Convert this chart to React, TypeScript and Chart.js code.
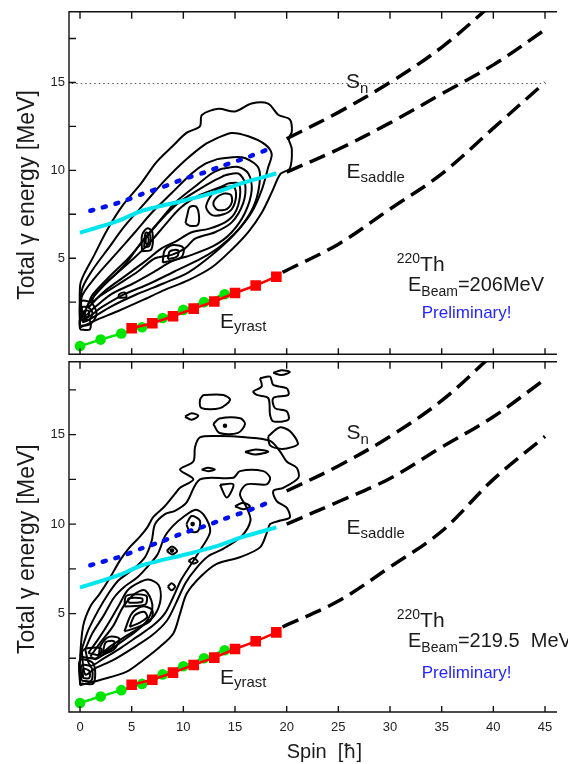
import { useEffect, useRef } from "react";
import { Chart, registerables } from "chart.js";

Chart.register(...registerables);

type Pt = [number, number];

const FONT = '"Liberation Sans", "DejaVu Sans", Arial, sans-serif';
const SYMBOL_FONT = '"DejaVu Sans", "Liberation Sans", sans-serif';
const INK = "#1a1a1a";

// ---------- axes ----------
const spinRange: Pt = [-1.065, 46.16];
const spinTicks = [0, 5, 10, 15, 20, 25, 30, 35, 40, 45];
const energyMajorTicks = [5, 10, 15];
const energyMinorTicks = [2.5, 7.5, 12.5, 17.5];
const topEnergyRange: Pt = [-0.46, 19.02];
const bottomEnergyRange: Pt = [-0.5, 19.07];

// ---------- yrast line (both panels) ----------
const yrastCircleSpin = [0, 2, 4, 6, 8, 10, 12, 14];
const yrastCircleE = [0.0, 0.37, 0.72, 1.07, 1.6, 2.06, 2.5, 2.95];
const yrastSquareSpin = [5, 7, 9, 11, 13, 15, 17, 19];
const yrastSquareE = [1.02, 1.3, 1.7, 2.13, 2.54, 3.02, 3.45, 3.95];

// ---------- blue dotted & cyan lines ----------
const blueSpin = [1, 4, 6, 8, 10, 12, 14, 16, 18];
const blueE = [7.7, 8.2, 8.65, 9.05, 9.5, 9.87, 10.3, 10.7, 11.15];
const cyanSpin = [0, 3.7, 6, 10.2, 13.4, 15.6, 19];
const cyanE = [6.45, 7.13, 7.7, 8.3, 8.8, 9.26, 9.82];

// ---------- dashed extrapolations ----------
const topUpperDashSpin = [20, 25, 30, 35, 40];
const topUpperDashE = [11.8, 13.3, 15.0, 17.0, 19.5];
const topMiddleDashSpin = [20, 25, 30, 35, 40, 45];
const topMiddleDashE = [9.9, 11.2, 12.7, 14.35, 16.0, 18.0];
const topLowerDashSpin = [19.6, 25, 30, 35, 40, 45];
const topLowerDashE = [4.2, 5.8, 7.8, 9.8, 12.4, 15.0];

const botUpperDashSpin = [20, 25, 30, 35, 40];
const botUpperDashE = [11.85, 13.25, 14.9, 16.9, 19.5];
const botMiddleDashSpin = [20, 25, 30, 35, 40, 45];
const botMiddleDashE = [10.0, 11.25, 12.55, 14.3, 16.0, 18.1];
const botLowerDashSpin = [19.6, 25, 30, 35, 40, 45];
const botLowerDashE = [4.25, 5.7, 7.6, 9.6, 12.5, 14.9];

// S_n level (top panel)
const snLineSpin = [-0.8, 44.8];
const snLineE = [14.94, 14.94];

// ---------- top panel contours (spin, E) ----------
const topContour1: Pt[] = [[0,1.05],[1.45,1.45],[3.7,2.0],[6.0,2.6],[8.2,3.2],[10.5,3.75],[12.8,4.5],[14.7,5.5],[16.3,6.5],[17.6,7.6],[18.6,8.8],[19.4,9.8],[20.3,10.1],[20.5,11.2],[20.2,11.8],[20.5,12.2],[20.3,12.9],[19.2,13.15],[18.2,13.8],[16.6,13.8],[15.0,13.35],[13.4,13.5],[11.8,13.15],[11.6,12.5],[10.3,12.13],[9.0,11.4],[7.4,10.47],[5.8,9.17],[4.2,8.06],[2.6,6.58],[1.3,5.09],[0.3,3.98],[0,3.4],[0,1.05]];
const topContour2: Pt[] = [[13.38,11.86],[14.68,12.13],[16.29,11.94],[17.9,11.48],[18.55,10.93],[18.22,10.19],[17.6,8.9],[16.6,7.6],[15.0,6.4],[13.0,5.3],[10.5,4.2],[8.0,3.55],[5.5,2.95],[3.0,2.25],[1.0,1.55],[0.25,1.4],[0.16,3.15],[1.13,4.26],[2.74,5.56],[4.35,6.85],[6.29,8.15],[8.23,9.44],[10.16,10.56],[12.1,11.48],[13.38,11.86]];
const topContour3: Pt[] = [[13.38,10.65],[15.65,10.74],[17.1,10.28],[17.42,9.63],[16.94,8.15],[15.65,6.86],[13.71,5.74],[11.78,5.0],[9.19,4.26],[6.61,3.52],[4.35,2.97],[2.1,2.22],[0.48,1.6],[0.16,2.78],[1.45,3.89],[3.39,5.19],[5.32,6.48],[6.94,7.59],[8.87,8.71],[10.81,9.82],[12.1,10.37],[13.38,10.65]];
const topContour4: Pt[] = [[13.71,10.09],[15.32,10.19],[16.29,9.82],[16.62,8.89],[15.97,7.59],[14.68,6.48],[13.06,5.74],[10.81,5.19],[8.87,4.82],[7.26,4.26],[5.0,3.52],[3.07,2.97],[1.45,2.22],[0.5,1.75],[0.8,2.41],[2.42,3.52],[4.35,4.63],[5.97,5.93],[7.58,7.04],[9.19,8.15],[11.13,9.08],[12.74,9.82],[13.71,10.09]];
const topContour5: Pt[] = [[14.03,9.72],[15.32,9.82],[15.97,9.26],[15.8,8.15],[14.68,7.04],[13.06,6.48],[11.13,6.11],[10.16,5.56],[8.87,5.19],[7.26,5.0],[5.64,4.26],[3.71,3.52],[1.77,2.78],[0.8,2.2],[1.13,2.85],[2.74,3.89],[4.68,5.0],[6.29,6.11],[7.9,7.22],[9.51,8.15],[11.45,8.89],[13.06,9.44],[14.03,9.72]];
const topContour6: Pt[] = [[14.35,9.26],[15.32,9.26],[15.48,8.52],[15.0,7.59],[14.03,7.04],[12.42,6.67],[10.81,6.48],[9.19,5.93],[7.9,5.56],[6.29,4.82],[4.35,3.98],[2.42,3.15],[1.2,2.5],[1.45,2.95],[3.19,3.95],[5.13,4.95],[6.77,5.9],[8.23,6.9],[9.68,7.85],[11.61,8.6],[13.35,9.0],[14.35,9.26]];
const topContour7: Pt[] = [[13.9,9.05],[14.9,9.05],[15.1,8.5],[14.7,7.8],[13.9,7.5],[12.8,7.45],[12.2,7.9],[12.6,8.5],[13.2,8.9],[13.9,9.05]];
const topContour8: Pt[] = [[14.0,8.7],[14.6,8.6],[14.7,8.2],[14.2,7.8],[13.3,7.75],[12.9,8.1],[13.3,8.5],[14.0,8.7]];
const topLoopA: Pt[] = [[10.2,7.0],[10.6,6.85],[11.4,6.9],[11.5,7.5],[11.2,7.95],[10.6,7.9],[10.4,7.5],[10.2,7.0]];
const topLoopB1: Pt[] = [[6.0,5.4],[6.9,5.5],[7.0,6.5],[6.5,6.7],[6.0,6.3],[6.0,5.4]];
const topLoopB2: Pt[] = [[6.2,5.6],[6.7,5.7],[6.8,6.3],[6.35,6.45],[6.2,5.6]];
const topLoopB3: Pt[] = [[6.35,5.8],[6.6,5.85],[6.6,6.2],[6.4,6.2],[6.35,5.8]];
const topLoopC1: Pt[] = [[8.0,4.75],[9.8,5.05],[10.0,5.6],[9.0,5.75],[8.2,5.45],[8.0,4.75]];
const topLoopC2: Pt[] = [[8.5,4.95],[9.4,5.1],[9.5,5.45],[8.7,5.4],[8.5,4.95]];
const topLoopD1: Pt[] = [[0,1.15],[1.0,1.25],[1.6,1.8],[1.2,2.4],[0.3,2.6],[0,2.4],[0,1.15]];
const topLoopD2: Pt[] = [[0.2,1.45],[0.9,1.5],[1.2,1.9],[0.8,2.2],[0.2,2.2],[0.2,1.45]];
const topLoopD3: Pt[] = [[0,0.95],[0.95,0.95],[0.95,1.45],[0,1.5],[0,0.95]];
const topLoopD4: Pt[] = [[0.35,1.65],[0.8,1.7],[0.85,2.0],[0.4,2.0],[0.35,1.65]];
const topLoopE: Pt[] = [[3.7,2.75],[4.5,2.8],[4.3,3.05],[3.8,2.95],[3.7,2.75]];

// ---------- bottom panel contours (spin, E) ----------
const botContour1: Pt[] = [[0,1.0],[0,2.4],[0.3,4.3],[1.0,5.4],[1.9,6.1],[2.9,7.0],[3.9,8.0],[4.8,8.7],[5.8,9.3],[6.5,9.8],[7.1,10.4],[8.2,11.0],[9.2,11.7],[9.68,12.03],[10.97,12.5],[9.68,13.05],[10.97,13.5],[11.13,14.3],[11.6,14.85],[13.5,14.92],[16.0,14.85],[18.4,14.65],[19.35,14.07],[20.0,13.5],[20.97,13.15],[21.13,12.59],[19.68,12.03],[18.7,11.85],[19.03,11.29],[20.0,10.92],[20.3,10.37],[19.4,10.2],[18.4,10.0],[18.07,9.5],[17.42,8.7],[15.48,8.15],[13.23,7.78],[11.61,7.03],[10.32,6.11],[9.68,5.0],[9.03,3.89],[7.74,3.15],[6.13,2.41],[4.52,1.76],[1.94,1.29],[0,1.0]];
const botContour2: Pt[] = [[0.16,2.98],[0.8,4.07],[1.77,5.18],[2.74,6.11],[3.71,6.85],[5.0,7.41],[6.29,8.15],[6.94,9.07],[7.26,10.0],[8.23,10.56],[9.19,10.74],[10.3,11.2],[11.61,12.5],[14.84,12.59],[15.48,12.96],[17.74,12.96],[18.39,12.59],[18.07,12.22],[16.13,12.22],[15.48,11.67],[16.13,10.92],[16.5,10.2],[15.6,9.3],[13.8,8.6],[12.4,8.2],[11.2,7.5],[10.2,6.7],[9.3,5.6],[8.4,4.6],[7.0,3.8],[5.2,3.1],[3.2,2.4],[1.5,1.95],[0.5,1.6],[0.16,2.98]];
const botContour3: Pt[] = [[0.5,3.0],[1.2,3.9],[2.3,4.9],[3.3,5.9],[4.3,6.5],[5.5,7.0],[6.5,7.6],[7.5,8.3],[8.2,9.3],[9.0,9.9],[10.0,10.4],[11.2,10.8],[12.0,10.5],[12.6,9.6],[11.8,8.7],[10.8,7.8],[9.8,6.9],[9.0,5.9],[8.2,5.0],[7.0,4.3],[5.5,3.7],[4.0,3.1],[2.3,2.5],[1.0,2.1],[0.5,3.0]];
const botContour4: Pt[] = [[1.0,2.6],[2.0,3.4],[3.2,4.3],[4.2,5.4],[5.3,6.1],[6.3,6.3],[7.0,5.5],[6.6,4.7],[5.6,4.1],[4.2,3.5],[2.6,2.85],[1.5,2.45],[1.0,2.6]];
const botContour5: Pt[] = [[0.8,2.8],[1.8,3.6],[2.8,4.5],[3.8,5.5],[4.6,6.3],[5.6,6.7],[6.6,6.9],[7.6,6.6],[7.8,5.8],[7.2,4.9],[6.0,4.3],[4.6,3.8],[3.0,3.2],[1.8,2.7],[0.8,2.8]];
const botLoopA1: Pt[] = [[4.3,4.0],[5.4,4.2],[6.8,4.6],[7.0,5.2],[6.0,5.4],[5.0,5.0],[4.3,4.0]];
const botLoopA2: Pt[] = [[4.8,4.25],[5.8,4.5],[6.5,4.8],[6.2,5.1],[5.3,4.9],[4.8,4.25]];
const botLoopA3: Pt[] = [[4.3,5.4],[6.3,5.5],[6.4,6.0],[4.5,6.0],[4.3,5.4]];
const botLoopA4: Pt[] = [[4.7,5.6],[6.0,5.65],[6.0,5.85],[4.7,5.85],[4.7,5.6]];
const botLoopB1: Pt[] = [[1.8,2.6],[3.3,3.0],[3.8,3.6],[2.8,3.7],[2.0,3.2],[1.8,2.6]];
const botLoopB2: Pt[] = [[2.2,2.8],[3.2,3.15],[3.3,3.45],[2.5,3.4],[2.2,2.8]];
const botLoopC1: Pt[] = [[0,1.1],[1.3,1.1],[1.3,2.2],[0,2.4],[0,1.1]];
const botLoopC2: Pt[] = [[0.15,1.25],[1.1,1.25],[1.1,2.0],[0.15,2.1],[0.15,1.25]];
const botLoopC3: Pt[] = [[0.3,1.4],[0.9,1.4],[0.9,1.8],[0.3,1.9],[0.3,1.4]];
const botLoopC4: Pt[] = [[0,2.6],[1.6,2.5],[2.1,3.0],[1.6,3.1],[0.4,3.0],[0,2.6]];
const botLoopD: Pt[] = [[10.3,10.0],[10.8,10.45],[11.6,10.2],[11.4,9.6],[10.6,9.6],[10.3,10.0]];
const botLoopE: Pt[] = [[8.4,8.5],[8.9,8.75],[9.4,8.5],[8.9,8.3],[8.4,8.5]];
const botLoopF: Pt[] = [[8.5,6.5],[8.85,6.7],[9.2,6.5],[8.85,6.3],[8.5,6.5]];
const botLoopG: Pt[] = [[10.5,7.95],[11.0,8.1],[11.4,7.9],[10.9,7.8],[10.5,7.95]];
const botIsland1: Pt[] = [[18.7,18.45],[19.5,18.6],[20.3,18.5],[19.5,18.33],[18.7,18.45]];
const botIsland2: Pt[] = [[17.42,18.15],[18.39,18.24],[18.7,17.78],[20.0,17.59],[20.16,17.22],[18.7,17.04],[18.87,16.48],[20.0,16.3],[20.16,15.83],[18.7,15.74],[18.39,16.11],[18.22,17.04],[17.1,17.22],[16.77,17.41],[17.58,17.69],[17.42,18.15]];
const botIsland3: Pt[] = [[11.93,17.22],[13.87,17.22],[14.52,16.94],[13.55,16.48],[11.77,16.48],[11.61,16.94],[11.93,17.22]];
const botIsland4: Pt[] = [[10.16,16.0],[10.8,16.2],[11.45,16.05],[10.8,15.83],[10.16,16.0]];
const botIsland5: Pt[] = [[12.9,15.6],[13.5,15.9],[15.5,15.92],[15.97,15.6],[15.3,15.1],[13.5,15.09],[12.9,15.6]];
const botIsland6: Pt[] = [[18.2,14.9],[19.3,15.4],[20.3,15.2],[21.1,14.5],[20.5,14.3],[19.5,14.2],[18.4,14.4],[18.2,14.9]];
const botIsland7: Pt[] = [[15.97,14.03],[17.0,14.17],[18.22,14.05],[17.0,13.89],[15.97,14.03]];
const botIsland8: Pt[] = [[11.77,13.05],[12.4,13.15],[13.06,13.05],[12.4,12.96],[11.77,13.05]];
const botIsland9: Pt[] = [[13.55,12.2],[14.84,12.22],[14.2,11.48],[13.55,12.2]];
const botIsland10: Pt[] = [[15.0,11.0],[15.8,11.2],[16.45,11.0],[15.8,10.83],[15.0,11.0]];
const botPeakDots: Pt[] = [[14.03,15.5],[10.9,10.0],[8.9,8.52]];

// ---------- text ----------
type Part = { t: string; size: number; dy?: number; color?: string; family?: string };
type Label = { spin: number; e: number; parts: Part[] };

const yTitle = "Total \u03b3 energy [MeV]";
const xTitleParts: Part[] = [
  { t: "Spin  [", size: 20 },
  { t: "\u0127", size: 19, family: SYMBOL_FONT },
  { t: "]", size: 20 },
];
const BLUE_TEXT = "#2424ff";

const topLabels: Label[] = [
  { spin: 25.74, e: 14.69, parts: [{ t: "S", size: 21 }, { t: "n", size: 15, dy: 5 }] },
  { spin: 25.8, e: 9.54, parts: [{ t: "E", size: 21 }, { t: "saddle", size: 15, dy: 4 }] },
  { spin: 30.65, e: 4.26, parts: [{ t: "220", size: 14, dy: -8 }, { t: "Th", size: 21 }] },
  { spin: 31.74, e: 3.15, parts: [{ t: "E", size: 20 }, { t: "Beam", size: 14, dy: 5 }, { t: "=206MeV", size: 20 }] },
  { spin: 33.07, e: 1.59, parts: [{ t: "Preliminary!", size: 17, color: BLUE_TEXT }] },
  { spin: 13.55, e: 1.04, parts: [{ t: "E", size: 21 }, { t: "yrast", size: 15, dy: 3 }] },
];
const bottomLabels: Label[] = [
  { spin: 25.8, e: 14.74, parts: [{ t: "S", size: 21 }, { t: "n", size: 15, dy: 5 }] },
  { spin: 25.8, e: 9.46, parts: [{ t: "E", size: 21 }, { t: "saddle", size: 15, dy: 4 }] },
  { spin: 30.65, e: 4.24, parts: [{ t: "220", size: 14, dy: -8 }, { t: "Th", size: 21 }] },
  { spin: 31.74, e: 3.14, parts: [{ t: "E", size: 20 }, { t: "Beam", size: 14, dy: 5 }, { t: "=219.5  MeV", size: 20 }] },
  { spin: 33.07, e: 1.41, parts: [{ t: "Preliminary!", size: 17, color: BLUE_TEXT }] },
  { spin: 13.55, e: 1.07, parts: [{ t: "E", size: 21 }, { t: "yrast", size: 15, dy: 3 }] },
];

// ---------- helpers ----------
const zip = (xs: number[], ys: number[]) => xs.map((x, i) => ({ x, y: ys[i] }));
const pts = (p: Pt[]) => p.map(([x, y]) => ({ x, y }));

function contourDs(p: Pt[]) {
  return {
    data: pts(p),
    showLine: true,
    borderColor: "#000",
    borderWidth: 2,
    pointRadius: 0,
    tension: 0.3,
    fill: false,
    order: 20,
  };
}

function lineDatasets(panel: "top" | "bottom") {
  const top = panel === "top";
  const dashed = (xs: number[], ys: number[]) => ({
    data: zip(xs, ys),
    showLine: true,
    borderColor: "#000",
    borderWidth: 3.5,
    borderDash: [17, 8],
    pointRadius: 0,
    tension: 0.35,
    order: 5,
  });
  const list: any[] = [
    {
      data: zip(yrastSquareSpin, yrastSquareE),
      showLine: true,
      borderColor: "#ff0000",
      backgroundColor: "#ff0000",
      borderWidth: 2.5,
      pointStyle: "rect",
      pointRadius: 7.5,
      pointBorderWidth: 0,
      order: 0,
    },
    {
      data: zip(yrastCircleSpin, yrastCircleE),
      showLine: true,
      borderColor: "#00e600",
      backgroundColor: "#00e600",
      borderWidth: 2.5,
      pointStyle: "circle",
      pointRadius: 5.3,
      pointBorderWidth: 0,
      order: 1,
    },
    {
      data: zip(cyanSpin, cyanE),
      showLine: true,
      borderColor: "#00e5ee",
      borderWidth: 4,
      pointRadius: 0,
      tension: 0.2,
      order: 2,
    },
    {
      data: zip(blueSpin, blueE),
      showLine: true,
      borderColor: "#0010ee",
      borderWidth: 4.5,
      borderDash: [3, 10],
      borderCapStyle: "round",
      pointRadius: 0,
      tension: 0.2,
      order: 3,
    },
    top ? dashed(topUpperDashSpin, topUpperDashE) : dashed(botUpperDashSpin, botUpperDashE),
    top ? dashed(topMiddleDashSpin, topMiddleDashE) : dashed(botMiddleDashSpin, botMiddleDashE),
    top ? dashed(topLowerDashSpin, topLowerDashE) : dashed(botLowerDashSpin, botLowerDashE),
  ];
  if (top) {
    list.push({
      data: zip(snLineSpin, snLineE),
      showLine: true,
      borderColor: "#555",
      borderWidth: 1.2,
      borderDash: [1.5, 3],
      pointRadius: 0,
      order: 6,
    });
  } else {
    list.push({
      data: pts(botPeakDots),
      showLine: false,
      pointRadius: 2.3,
      pointBorderWidth: 0,
      backgroundColor: "#000",
      order: 7,
    });
  }
  return list;
}

const topContours = [topContour1, topContour2, topContour3, topContour4, topContour5, topContour6, topContour7, topContour8, topLoopA, topLoopB1, topLoopB2, topLoopB3, topLoopC1, topLoopC2, topLoopD1, topLoopD2, topLoopD3, topLoopD4, topLoopE];
const bottomContours = [botContour1, botContour2, botContour3, botContour4, botContour5, botLoopA1, botLoopA2, botLoopA3, botLoopA4, botLoopB1, botLoopB2, botLoopC1, botLoopC2, botLoopC3, botLoopC4, botLoopD, botLoopE, botLoopF, botLoopG, botIsland1, botIsland2, botIsland3, botIsland4, botIsland5, botIsland6, botIsland7, botIsland8, botIsland9, botIsland10];

function drawRich(ctx: CanvasRenderingContext2D, x: number, y: number, parts: Part[]) {
  let cx = x;
  for (const p of parts) {
    ctx.font = `${p.size}px ${p.family || FONT}`;
    ctx.fillStyle = p.color || INK;
    ctx.fillText(p.t, cx, y + (p.dy || 0));
    cx += ctx.measureText(p.t).width;
  }
}

function decorPlugin(labels: Label[], withXTitle: boolean) {
  return {
    id: "decor",
    afterDraw(chart: any) {
      const { ctx, chartArea: a, scales } = chart;
      const xs = scales.x;
      const ys = scales.y;
      ctx.save();
      ctx.strokeStyle = "#111";
      ctx.lineWidth = 1.4;
      ctx.beginPath();
      ctx.moveTo(a.right, a.top);
      ctx.lineTo(a.left, a.top);
      ctx.lineTo(a.left, a.bottom);
      ctx.lineTo(a.right, a.bottom);
      for (const v of spinTicks) {
        const px = xs.getPixelForValue(v);
        ctx.moveTo(px, a.top);
        ctx.lineTo(px, a.top + 7);
        ctx.moveTo(px, a.bottom);
        ctx.lineTo(px, a.bottom - 6);
      }
      for (const v of [...energyMajorTicks, ...energyMinorTicks]) {
        const py = ys.getPixelForValue(v);
        ctx.moveTo(a.left, py);
        ctx.lineTo(a.left + 7, py);
      }
      ctx.stroke();

      ctx.textAlign = "left";
      ctx.textBaseline = "alphabetic";
      for (const l of labels) {
        drawRich(ctx, xs.getPixelForValue(l.spin), ys.getPixelForValue(l.e), l.parts);
      }

      // y title
      ctx.save();
      ctx.translate(33.5, ys.getPixelForValue(8.6));
      ctx.rotate(-Math.PI / 2);
      ctx.textAlign = "center";
      ctx.font = `23px ${FONT}`;
      ctx.fillStyle = INK;
      ctx.fillText(yTitle, 0, 0);
      ctx.restore();

      if (withXTitle) {
        ctx.textAlign = "left";
        drawRich(ctx, xs.getPixelForValue(20), a.bottom + 45.5, xTitleParts);
      }
      ctx.restore();
    },
  };
}

function buildChart(canvas: HTMLCanvasElement, panel: "top" | "bottom") {
  const top = panel === "top";
  const range = top ? topEnergyRange : bottomEnergyRange;
  const contours = top ? topContours : bottomContours;
  const datasets = [...lineDatasets(panel), ...contours.map(contourDs)];
  return new Chart(canvas, {
    type: "scatter",
    data: { datasets },
    options: {
      animation: false,
      responsive: false,
      events: [],
      layout: { padding: top ? { left: 0, right: 11, top: 9, bottom: 6 } : { left: 0, right: 11, top: 10, bottom: 0 } },
      plugins: { legend: { display: false }, tooltip: { enabled: false } },
      scales: {
        x: {
          type: "linear",
          display: !top,
          min: spinRange[0],
          max: spinRange[1],
          grid: { display: false, drawTicks: false },
          border: { display: false },
          afterBuildTicks: (s: any) => {
            s.ticks = spinTicks.map((v) => ({ value: v }));
          },
          afterFit: (s: any) => {
            s.height = top ? 0 : 52;
          },
          ticks: {
            autoSkip: false,
            maxRotation: 0,
            padding: 8,
            color: "#222",
            font: { size: 13, family: FONT },
          },
        },
        y: {
          type: "linear",
          min: range[0],
          max: range[1],
          grid: { display: false, drawTicks: false },
          border: { display: false },
          afterBuildTicks: (s: any) => {
            s.ticks = energyMajorTicks.map((v) => ({ value: v }));
          },
          afterFit: (s: any) => {
            s.width = 69;
          },
          ticks: {
            padding: 4,
            color: "#222",
            font: { size: 13, family: FONT },
          },
        },
      },
    } as any,
    plugins: [decorPlugin(top ? topLabels : bottomLabels, !top)],
  });
}

export default function App() {
  const topRef = useRef<HTMLCanvasElement>(null);
  const botRef = useRef<HTMLCanvasElement>(null);
  useEffect(() => {
    const c1 = buildChart(topRef.current!, "top");
    const c2 = buildChart(botRef.current!, "bottom");
    return () => {
      c1.destroy();
      c2.destroy();
    };
  }, []);
  return (
    <div style={{ position: "absolute", left: 0, top: 0, width: 568, height: 764, background: "#fff", overflow: "hidden" }}>
      <canvas ref={topRef} width={568} height={366} style={{ position: "absolute", left: 0, top: 0, width: 568, height: 366 }} />
      <canvas ref={botRef} width={568} height={414} style={{ position: "absolute", left: 0, top: 350, width: 568, height: 414 }} />
    </div>
  );
}
